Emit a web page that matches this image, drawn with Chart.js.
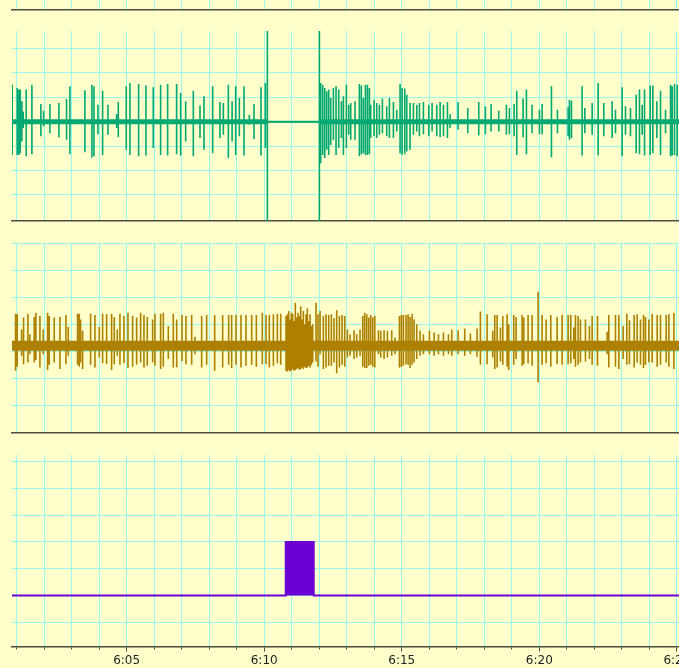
<!DOCTYPE html>
<html>
<head>
<meta charset="utf-8">
<script src="https://cdn.jsdelivr.net/npm/chart.js@4.4.1/dist/chart.umd.min.js"></script>
<style>
  html, body { margin: 0; padding: 0; background: #ffffcc; width: 679px; height: 668px; overflow: hidden; }
  .panel { position: absolute; left: 0; }
  canvas { display: block; }
</style>
</head>
<body>
<div class="panel" style="top:0px"><canvas id="strip" width="720" height="11"></canvas></div>
<div class="panel" style="top:11px"><canvas id="green" width="720" height="211"></canvas></div>
<div class="panel" style="top:222px"><canvas id="gold" width="720" height="212"></canvas></div>
<div class="panel" style="top:434px"><canvas id="events" width="720" height="236"></canvas></div>
<script>
// Time axis: seconds after 6:00
const xStart = 50;
const xEnd = 1594;
const labelMinutes = [5, 10, 15, 20, 25];

// Channel 1: spikes [time s, peak, trough]
const greenSpikes = [
  [50.5,1.52,-1.36],[61.4,1.38,-1.36],[65.0,1.32,-1.36],[68.0,1.32,-1.29],[71.6,0.84,-0.81],[74.5,0.42,-0.26],
  [81.0,1.32,-1.42],[93.4,1.52,-1.33],[113.0,0.73,-0.60],[118.9,0.45,-0.19],[132.7,0.73,-0.47],[152.3,0.77,-0.64],
  [169.0,0.93,-0.74],[176.3,1.45,-1.33],[209.0,1.29,-1.25],[224.3,1.52,-1.47],[228.7,1.45,-1.42],[237.4,0.70,-0.51],
  [247.6,1.27,-1.36],[259.2,0.70,-0.53],[278.1,0.32,-0.26],[281.8,0.81,-0.64],[299.2,1.45,-1.15],[307.2,1.59,-1.36],
  [326.1,1.55,-1.42],[342.1,1.49,-1.38],[358.1,1.41,-1.08],[374.1,1.52,-1.36],[389.4,1.55,-1.38],[409.0,1.55,-1.33],
  [417.8,1.18,-1.38],[428.7,0.84,-0.81],[445.4,1.27,-1.42],[460.0,0.67,-0.67],[468.7,1.04,-1.15],[487.6,1.45,-1.29],
  [503.6,0.81,-0.67],[510.9,0.77,-0.53],[521.8,1.52,-1.49],[530.0,0.84,-0.81],[537.8,1.45,-1.36],[545.8,0.97,-0.60],
  [555.9,1.45,-1.38],[567.6,0.29,-0.12],[577.8,0.73,-0.71],[593.0,1.41,-1.38],[602.5,1.59,-1.08],[606.9,6,-6],
  [720.3,6,-6],[723.2,1.59,-1.70],[727.6,1.52,-1.36],[732.0,1.38,-1.49],[736.3,1.25,-1.15],[740.7,1.32,-1.36],
  [745.1,0.97,-0.95],[750.9,1.38,-0.74],[756.7,1.45,-1.36],[762.5,1.32,-1.08],[768.3,0.84,-0.67],[772.7,1.04,-1.36],
  [779.2,1.52,-1.08],[784.3,0.70,-0.53],[788.7,0.77,-0.74],[798.1,0.84,-0.74],[807.6,1.55,-1.42],[812.0,1.49,-1.33],
  [816.3,0.97,-1.29],[820.7,1.52,-1.36],[825.1,1.52,-1.36],[829.4,1.38,-1.33],[832.3,0.70,-0.67],[839.6,0.90,-0.60],
  [845.4,0.77,-0.67],[851.2,0.70,-0.53],[857.8,0.95,-0.47],[867.2,0.63,-0.60],[873.1,0.97,-0.67],[881.8,0.81,-0.67],
  [889.1,0.49,-0.40],[896.3,1.55,-1.29],[900.7,1.38,-1.36],[906.5,1.36,-1.33],[910.9,1.11,-1.22],[918.1,0.77,-1.15],
  [925.4,0.77,-0.53],[932.7,0.70,-0.40],[938.5,0.77,-0.60],[947.2,0.81,-0.51],[958.9,0.70,-0.60],[966.1,0.77,-0.40],
  [976.3,0.70,-0.60],[983.6,0.81,-0.64],[990.9,0.70,-0.60],[999.6,0.81,-0.67],[1005.4,0.32,-0.26],[1022.8,0.81,-0.33],
  [1043.9,0.56,-0.47],[1067.9,0.81,-0.56],[1082.4,0.63,-0.51],[1094.8,0.73,-0.40],[1111.5,0.45,-0.40],[1128.2,0.70,-0.53],
  [1134.8,0.56,-0.51],[1145.0,0.73,-0.60],[1150.8,1.27,-1.36],[1164.6,0.95,-0.64],[1171.9,1.32,-1.33],[1184.2,0.70,-0.47],
  [1200.3,0.49,-0.51],[1206.1,0.73,-0.51],[1226.4,1.45,-1.47],[1239.5,0.49,-0.47],[1262.8,0.59,-0.60],[1265.7,0.90,-0.74],
  [1270.1,0.86,-0.67],[1293.3,1.45,-1.38],[1299.2,0.56,-0.47],[1315.2,0.77,-0.53],[1328.3,1.59,-1.38],[1340.6,0.77,-0.60],
  [1358.8,0.84,-0.67],[1366.1,0.49,-0.47],[1380.6,1.41,-1.42],[1387.9,0.63,-0.53],[1398.8,0.56,-0.60],[1411.2,1.11,-1.29],
  [1418.4,1.32,-1.33],[1424.3,0.70,-0.53],[1429.4,1.32,-1.38],[1441.7,1.49,-1.36],[1447.5,1.49,-1.29],[1456.3,0.84,-0.67],
  [1464.3,1.27,-1.36],[1475.2,0.49,-0.47],[1486.1,1.52,-1.42],[1489.7,1.45,-1.38],[1494.8,1.55,-1.36],[1500.6,1.52,-1.42]
];
// Channel 1 has no signal between these two times
const greenFlat = [606.9, 720.3];

// Channel 2: baseline level and spikes [time s, peak, trough]
const goldBase = 0.22;
const goldSpikes = [
  [57.8,1.40,-0.70],[61.4,1.38,-0.56],[70.9,0.82,-0.15],[75.2,1.26,-0.46],[84.7,1.40,-0.40],[89.0,0.64,-0.09],
  [98.5,1.28,-0.40],[102.1,1.44,-0.31],[110.9,1.32,-0.58],[118.1,0.82,-0.09],[127.6,1.44,-0.68],[131.2,1.32,-0.48],
  [142.1,1.26,-0.40],[154.5,1.28,-0.64],[167.6,1.35,-0.46],[172.7,0.91,-0.15],[193.0,1.40,-0.48],[196.7,1.40,-0.56],
  [199.6,1.19,-0.40],[204.0,0.77,-0.64],[221.4,1.40,-0.48],[230.9,1.35,-0.58],[240.3,0.91,-0.21],[247.6,1.40,-0.43],
  [256.3,1.38,-0.46],[267.2,1.40,-0.68],[273.0,1.28,-0.46],[279.6,0.82,-0.15],[285.4,1.40,-0.48],[294.1,1.32,-0.43],
  [302.9,1.44,-0.60],[313.0,1.32,-0.56],[321.8,1.26,-0.48],[330.5,1.44,-0.40],[337.8,1.35,-0.58],[345.0,1.28,-0.52],
  [356.7,1.19,-0.40],[361.8,1.40,-0.52],[374.1,1.40,-0.64],[380.0,1.44,-0.56],[390.9,0.95,-0.27],[401.8,1.40,-0.58],
  [409.1,1.19,-0.58],[420.7,1.35,-0.34],[429.4,1.32,-0.46],[441.8,1.35,-0.48],[449.0,0.55,-0.09],[463.6,1.32,-0.58],
  [474.5,1.35,-0.48],[492.0,1.35,-0.70],[509.4,1.35,-0.58],[522.5,1.35,-0.48],[529.0,1.35,-0.60],[538.5,1.35,-0.48],
  [549.4,1.35,-0.58],[560.3,1.35,-0.52],[572.7,1.35,-0.48],[582.9,1.35,-0.56],[595.9,1.44,-0.46],[604.0,1.35,-0.46],
  [611.2,1.35,-0.58],[620.0,1.38,-0.52],[628.7,1.40,-0.43],[636.0,1.40,-0.48],
  [647.6,1.32,-0.70],[650.5,1.38,-0.73],[653.4,1.50,-0.68],[656.3,1.19,-0.73],[659.2,1.44,-0.70],[662.1,1.40,-0.64],
  [665.0,1.13,-0.70],[667.9,1.81,-0.68],[670.9,1.26,-0.64],[673.8,1.44,-0.60],[676.7,1.32,-0.68],[679.6,1.68,-0.64],
  [682.5,1.19,-0.58],[685.4,1.50,-0.64],[688.3,1.01,-0.56],[691.2,1.38,-0.60],[694.1,1.60,-0.58],[697.0,1.13,-0.52],
  [700.0,1.38,-0.58],[702.9,0.95,-0.48],[705.8,1.01,-0.40],
  [713.0,1.81,-0.36],[717.4,1.38,-0.56],[721.8,1.50,-0.09],[729.0,1.32,-0.64],[734.9,1.38,-0.58],[740.7,1.35,-0.52],
  [746.5,1.38,-0.52],[752.3,1.23,-0.40],[758.1,1.53,-0.80],[764.0,1.32,-0.58],[769.8,1.35,-0.48],[775.6,1.32,-0.56],
  [781.4,0.82,-0.21],[787.2,0.64,-0.15],[796.0,0.79,-0.27],[801.8,0.64,-0.21],[809.0,0.82,-0.15],
  [814.9,1.32,-0.56],[819.2,1.44,-0.60],[823.6,1.38,-0.60],[828.0,1.26,-0.52],[832.3,1.35,-0.48],[836.7,1.26,-0.56],
  [841.1,1.32,-0.58],[849.1,0.79,-0.09],[854.1,0.77,-0.21],[861.4,0.79,-0.27],[868.7,0.77,-0.21],[878.1,0.79,-0.15],
  [885.4,0.52,-0.09],[894.9,1.32,-0.58],[899.2,1.35,-0.56],[903.6,1.35,-0.52],[909.4,1.35,-0.46],[913.8,1.38,-0.48],
  [918.1,1.28,-0.60],[922.5,1.40,-0.48],[926.9,1.19,-0.40],[932.7,1.01,-0.27],[940.0,0.77,-0.15],[947.2,0.64,-0.09],
  [960.3,0.77,-0.09],[970.5,0.71,-0.15],[980.0,0.64,-0.09],[990.9,0.71,-0.15],[1001.8,0.64,-0.09],[1009.1,0.82,-0.15],
  [1022.8,0.79,-0.09],[1037.3,0.86,-0.15],[1049.7,0.67,-0.09],[1064.2,0.86,-0.19],[1071.5,1.48,-0.48],[1086.1,1.38,-0.46],
  [1098.4,0.77,-0.21],[1102.8,1.35,-0.64],[1107.9,1.35,-0.58],[1115.2,0.89,-0.36],[1120.3,1.32,-0.48],[1129.7,1.38,-0.56],
  [1133.3,1.01,-0.68],[1144.2,1.35,-0.48],[1149.3,1.28,-0.27],[1162.4,1.35,-0.52],[1166.1,1.26,-0.46],[1175.5,1.35,-0.43],
  [1184.2,1.35,-0.52],[1197.3,2.21,-1.13],[1206.1,1.35,-0.48],[1214.8,1.19,-0.43],[1225.0,1.35,-0.56],[1238.8,1.28,-0.46],
  [1249.7,1.35,-0.48],[1262.8,1.35,-0.46],[1268.6,1.35,-0.43],[1275.2,0.89,-0.27],[1278.8,1.35,-0.56],[1284.6,1.32,-0.48],
  [1289.7,1.19,-0.40],[1300.6,1.19,-0.36],[1309.3,0.95,-0.27],[1315.2,1.32,-0.48],[1326.8,1.32,-0.52],[1347.9,0.74,-0.09],
  [1351.5,1.35,-0.58],[1366.1,1.35,-0.56],[1373.4,1.35,-0.64],[1382.8,0.95,-0.27],[1390.8,1.40,-0.48],[1396.6,1.16,-0.46],
  [1406.8,1.35,-0.58],[1413.3,1.38,-0.40],[1420.6,1.19,-0.48],[1427.2,1.35,-0.60],[1431.5,1.28,-0.48],[1438.8,1.19,-0.40],
  [1446.1,1.40,-0.40],[1457.0,1.35,-0.56],[1464.3,1.35,-0.48],[1476.6,1.35,-0.40],[1482.5,1.38,-0.56],[1493.4,1.44,-0.64]
];

// Channel 3: event level (0 = off) with on-periods [start s, end s, level]
const eventSpans = [[647, 708, 2]];

const GREEN = '#03a872';
const GOLD = '#ad8000';
const PURPLE = '#6a00d2';
const GRID = '#99f8ee';
const AXIS = '#4d4d40';
const FONT = "'DejaVu Sans', Verdana, sans-serif";

const minuteTicks = [];
for (let t = Math.ceil(xStart / 60) * 60; t <= xEnd; t += 60) minuteTicks.push(t);

function spikePath(spikes, base) {
  const pts = [{ x: xStart, y: base }];
  for (const [t, hi, lo] of spikes) {
    pts.push({ x: t, y: base }, { x: t, y: hi }, { x: t, y: lo }, { x: t, y: base });
  }
  pts.push({ x: xEnd, y: base });
  return pts;
}

function xAxis(withLabels) {
  return {
    type: 'linear', min: xStart, max: xEnd,
    afterBuildTicks: s => { s.ticks = minuteTicks.map(v => ({ value: v })); },
    grid: {
      color: GRID, lineWidth: 1,
      drawTicks: withLabels, tickLength: 5, tickColor: '#505044', tickWidth: 1,
      tickBorderDash: ctx => (ctx.tick && ctx.tick.value % 300 === 0) ? [] : [2, 20]
    },
    border: { display: true, color: AXIS, width: 1.5 },
    ticks: {
      display: withLabels, autoSkip: false, maxRotation: 0, padding: 2,
      color: '#1e1e1e', font: { family: FONT, size: 12 },
      callback: v => {
        const m = Math.round(v / 60);
        return labelMinutes.includes(m) ? '6:' + String(m).padStart(2, '0') : '';
      }
    }
  };
}

function yAxis(min, max, ticks) {
  return {
    type: 'linear', min, max,
    afterBuildTicks: s => { s.ticks = ticks.map(v => ({ value: v })); },
    grid: { color: GRID, lineWidth: 1, drawTicks: false },
    border: { display: false },
    ticks: { display: false }
  };
}

function panelOptions(yMin, yMax, yTicks, padTop, padBottom, withLabels) {
  return {
    responsive: false, animation: false, events: [],
    layout: { padding: { left: 12, right: 0, top: padTop, bottom: padBottom } },
    plugins: { legend: { display: false }, tooltip: { enabled: false } },
    elements: { point: { radius: 0 }, line: { tension: 0, borderJoinStyle: 'bevel' } },
    scales: { x: xAxis(withLabels), y: yAxis(yMin, yMax, yTicks) }
  };
}

// Thin strip of the recording above
new Chart(document.getElementById('strip'), {
  type: 'line',
  data: { datasets: [] },
  options: (() => {
    const o = panelOptions(0, 1, [], 0, 1, false);
    o.scales.y.display = false;
    return o;
  })()
});

// Channel 1
new Chart(document.getElementById('green'), {
  type: 'line',
  data: {
    datasets: [
      { data: [{ x: xStart, y: 0 }, { x: greenFlat[0], y: 0 }], borderColor: GREEN, borderWidth: 5, clip: 0 },
      { data: [{ x: greenFlat[0], y: 0 }, { x: greenFlat[1], y: 0 }], borderColor: GREEN, borderWidth: 2, clip: 0 },
      { data: [{ x: greenFlat[1], y: 0 }, { x: xEnd, y: 0 }], borderColor: GREEN, borderWidth: 5, clip: 0 },
      { data: spikePath(greenSpikes, 0), borderColor: GREEN, borderWidth: 1.6, clip: 0 }
    ]
  },
  options: panelOptions(-4.07, 3.72, [-3, -2, -1, 0, 1, 2, 3], 20, 1, false)
});

// Channel 2
new Chart(document.getElementById('gold'), {
  type: 'line',
  data: {
    datasets: [
      { data: [{ x: xStart, y: goldBase }, { x: xEnd, y: goldBase }], borderColor: GOLD, borderWidth: 10, clip: 0 },
      { data: spikePath(goldSpikes, goldBase), borderColor: GOLD, borderWidth: 1.6, clip: 0 }
    ]
  },
  options: panelOptions(-3, 4.01, [-2, -1, 0, 1, 2, 3, 4], 21, 1, false)
});

// Channel 3
function eventPath() {
  const pts = [{ x: xStart, y: 0 }];
  for (const [a, b, lvl] of eventSpans) {
    pts.push({ x: a, y: 0 }, { x: a, y: lvl }, { x: b, y: lvl }, { x: b, y: 0 });
  }
  pts.push({ x: xEnd, y: 0 });
  return pts;
}
new Chart(document.getElementById('events'), {
  type: 'line',
  data: {
    datasets: [
      { data: eventPath(), borderColor: PURPLE, backgroundColor: PURPLE, borderWidth: 2,
        borderJoinStyle: 'miter', fill: 'origin', clip: 0 }
    ]
  },
  options: panelOptions(-1.91, 5.25, [-1, 0, 1, 2, 3, 4, 5], 21, 0, true)
});
</script>
</body>
</html>
